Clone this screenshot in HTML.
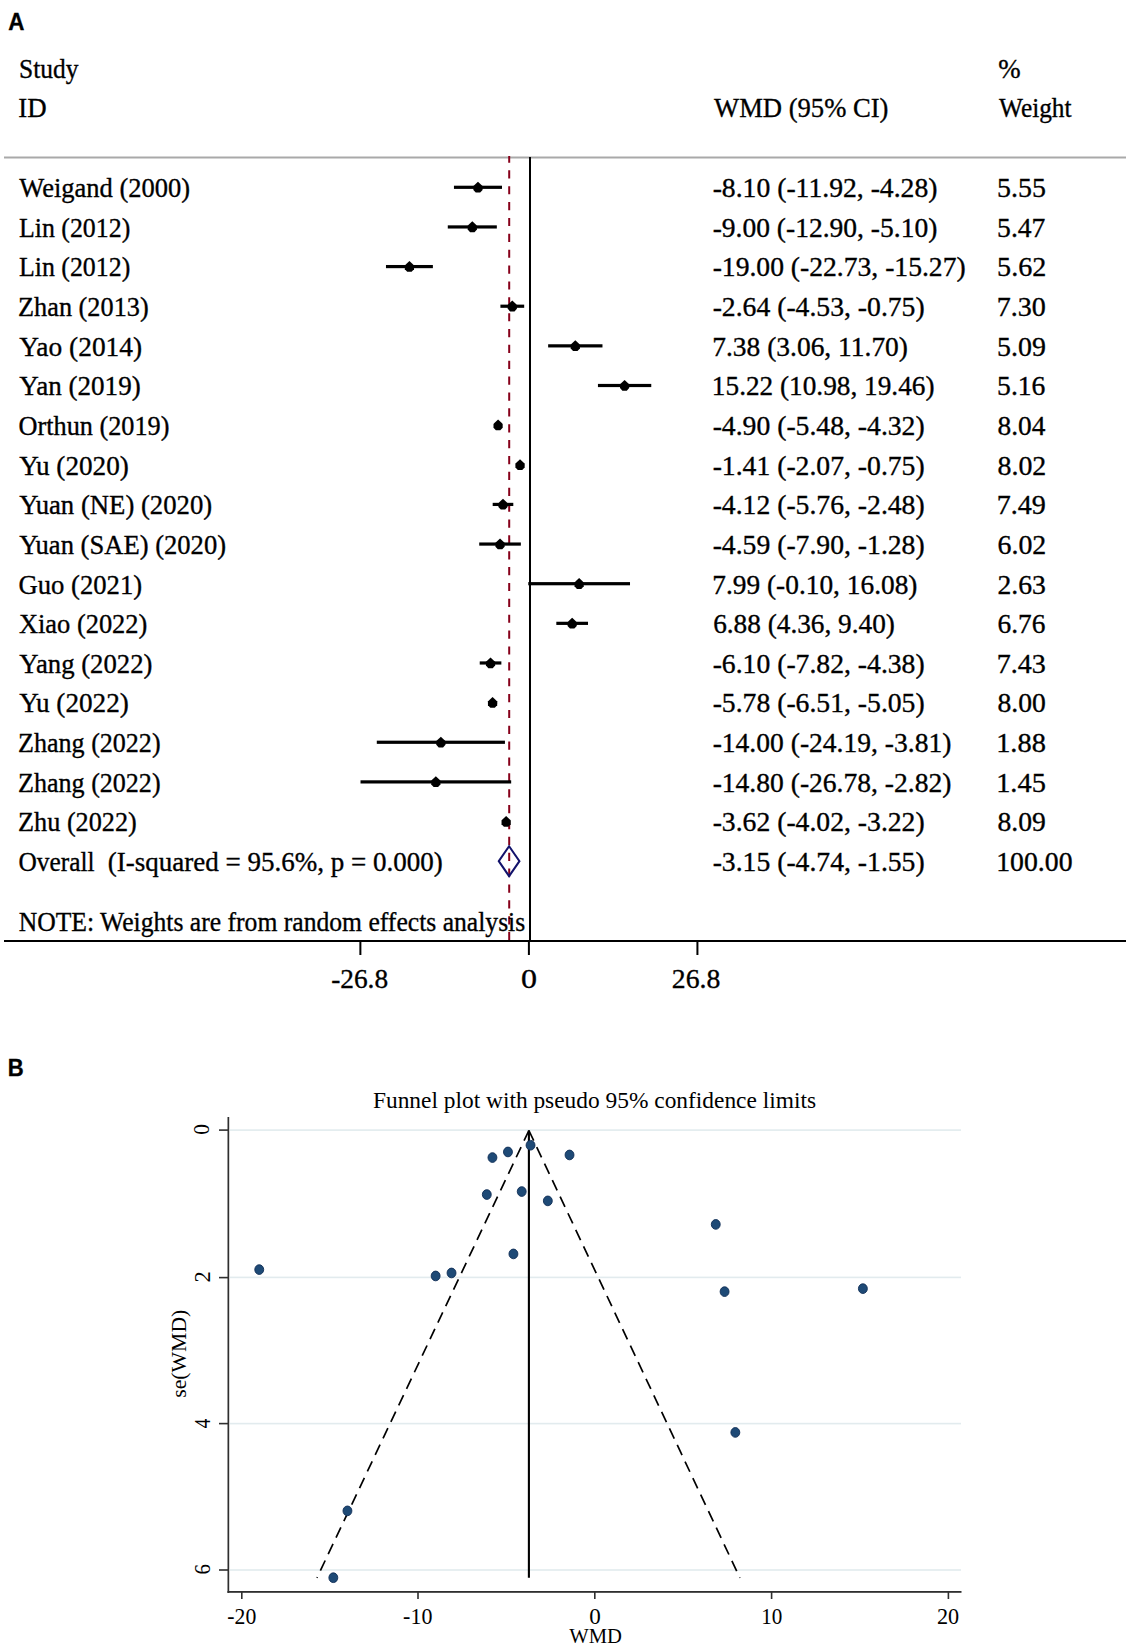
<!DOCTYPE html>
<html><head><meta charset="utf-8"><style>
html,body{margin:0;padding:0;background:#fff;}
svg{display:block;}
</style></head><body>
<svg width="1130" height="1647" viewBox="0 0 1130 1647">
<rect width="1130" height="1647" fill="#fff"/>
<rect x="4" y="156.5" width="1122" height="2" fill="#a9a9a9"/>
<line x1="509.2" y1="156" x2="509.2" y2="940" stroke="#86001a" stroke-width="2" stroke-dasharray="8.2 7.67" stroke-dashoffset="1.57"/>
<rect x="529" y="157" width="2" height="785" fill="#000"/>
<rect x="4" y="940" width="1122" height="2" fill="#000"/>
<rect x="359.38" y="941" width="2" height="14" fill="#000"/>
<rect x="527.90" y="941" width="2" height="14" fill="#000"/>
<rect x="696.42" y="941" width="2" height="14" fill="#000"/>
<rect x="453.95" y="185.70" width="48.04" height="3.2" fill="#000"/>
<polygon points="477.97,181.70 481.17,184.70 482.57,186.10 482.57,189.90 480.17,192.50 475.77,192.50 473.37,189.90 473.37,186.10 474.77,184.70" fill="#000"/>
<rect x="447.78" y="225.34" width="49.05" height="3.2" fill="#000"/>
<polygon points="472.31,221.34 475.51,224.34 476.91,225.74 476.91,229.54 474.51,232.14 470.11,232.14 467.71,229.54 467.71,225.74 469.11,224.34" fill="#000"/>
<rect x="385.97" y="264.98" width="46.91" height="3.2" fill="#000"/>
<polygon points="409.43,260.98 412.63,263.98 414.03,265.38 414.03,269.18 411.63,271.78 407.23,271.78 404.83,269.18 404.83,265.38 406.23,263.98" fill="#000"/>
<rect x="500.42" y="304.62" width="23.77" height="3.2" fill="#000"/>
<polygon points="512.30,300.62 515.50,303.62 516.90,305.02 516.90,308.82 514.50,311.42 510.10,311.42 507.70,308.82 507.70,305.02 509.10,303.62" fill="#000"/>
<rect x="548.14" y="344.26" width="54.33" height="3.2" fill="#000"/>
<polygon points="575.31,340.26 578.51,343.26 579.91,344.66 579.91,348.46 577.51,351.06 573.11,351.06 570.71,348.46 570.71,344.66 572.11,343.26" fill="#000"/>
<rect x="597.94" y="383.90" width="53.32" height="3.2" fill="#000"/>
<polygon points="624.60,379.90 627.80,382.90 629.20,384.30 629.20,388.10 626.80,390.70 622.40,390.70 620.00,388.10 620.00,384.30 621.40,382.90" fill="#000"/>
<rect x="494.44" y="423.54" width="7.29" height="3.2" fill="#000"/>
<polygon points="498.09,419.54 501.29,422.54 502.69,423.94 502.69,427.74 500.29,430.34 495.89,430.34 493.49,427.74 493.49,423.94 494.89,422.54" fill="#000"/>
<rect x="515.88" y="463.18" width="8.30" height="3.2" fill="#000"/>
<polygon points="520.03,459.18 523.23,462.18 524.63,463.58 524.63,467.38 522.23,469.98 517.83,469.98 515.43,467.38 515.43,463.58 516.83,462.18" fill="#000"/>
<rect x="492.68" y="502.82" width="20.62" height="3.2" fill="#000"/>
<polygon points="502.99,498.82 506.19,501.82 507.59,503.22 507.59,507.02 505.19,509.62 500.79,509.62 498.39,507.02 498.39,503.22 499.79,501.82" fill="#000"/>
<rect x="479.22" y="542.46" width="41.63" height="3.2" fill="#000"/>
<polygon points="500.04,538.46 503.24,541.46 504.64,542.86 504.64,546.66 502.24,549.26 497.84,549.26 495.44,546.66 495.44,542.86 496.84,541.46" fill="#000"/>
<rect x="528.27" y="582.10" width="101.74" height="3.2" fill="#000"/>
<polygon points="579.14,578.10 582.34,581.10 583.74,582.50 583.74,586.30 581.34,588.90 576.94,588.90 574.54,586.30 574.54,582.50 575.94,581.10" fill="#000"/>
<rect x="556.32" y="621.74" width="31.69" height="3.2" fill="#000"/>
<polygon points="572.16,617.74 575.36,620.74 576.76,622.14 576.76,625.94 574.36,628.54 569.96,628.54 567.56,625.94 567.56,622.14 568.96,620.74" fill="#000"/>
<rect x="479.73" y="661.38" width="21.63" height="3.2" fill="#000"/>
<polygon points="490.54,657.38 493.74,660.38 495.14,661.78 495.14,665.58 492.74,668.18 488.34,668.18 485.94,665.58 485.94,661.78 487.34,660.38" fill="#000"/>
<rect x="487.97" y="701.02" width="9.18" height="3.2" fill="#000"/>
<polygon points="492.56,697.02 495.76,700.02 497.16,701.42 497.16,705.22 494.76,707.82 490.36,707.82 487.96,705.22 487.96,701.42 489.36,700.02" fill="#000"/>
<rect x="376.79" y="740.66" width="128.15" height="3.2" fill="#000"/>
<polygon points="440.87,736.66 444.07,739.66 445.47,741.06 445.47,744.86 443.07,747.46 438.67,747.46 436.27,744.86 436.27,741.06 437.67,739.66" fill="#000"/>
<rect x="360.51" y="780.30" width="150.66" height="3.2" fill="#000"/>
<polygon points="435.84,776.30 439.04,779.30 440.44,780.70 440.44,784.50 438.04,787.10 433.64,787.10 431.24,784.50 431.24,780.70 432.64,779.30" fill="#000"/>
<rect x="503.62" y="819.94" width="5.03" height="3.2" fill="#000"/>
<polygon points="506.14,815.94 509.34,818.94 510.74,820.34 510.74,824.14 508.34,826.74 503.94,826.74 501.54,824.14 501.54,820.34 502.94,818.94" fill="#000"/>
<polygon points="498.79,861.18 509.09,846.18 519.45,861.18 509.09,876.18" fill="none" stroke="#12126b" stroke-width="2"/>
<rect x="230" y="1129.30" width="731" height="1.6" fill="#e2ebee"/>
<rect x="230" y="1276.60" width="731" height="1.6" fill="#e2ebee"/>
<rect x="230" y="1422.80" width="731" height="1.6" fill="#e2ebee"/>
<rect x="230" y="1569.20" width="731" height="1.6" fill="#e2ebee"/>
<rect x="227.5" y="1117" width="1.7" height="476" fill="#2f2f2f"/>
<rect x="227.5" y="1591" width="734" height="1.8" fill="#2f2f2f"/>
<rect x="219" y="1129.30" width="9" height="1.6" fill="#2f2f2f"/>
<rect x="219" y="1276.80" width="9" height="1.6" fill="#2f2f2f"/>
<rect x="219" y="1422.80" width="9" height="1.6" fill="#2f2f2f"/>
<rect x="219" y="1569.20" width="9" height="1.6" fill="#2f2f2f"/>
<rect x="241.00" y="1592" width="1.6" height="7" fill="#2f2f2f"/>
<rect x="417.20" y="1592" width="1.6" height="7" fill="#2f2f2f"/>
<rect x="594.00" y="1592" width="1.6" height="7" fill="#2f2f2f"/>
<rect x="770.80" y="1592" width="1.6" height="7" fill="#2f2f2f"/>
<rect x="947.60" y="1592" width="1.6" height="7" fill="#2f2f2f"/>
<line x1="528.9" y1="1130.5" x2="528.9" y2="1577.8" stroke="#000" stroke-width="2.1"/>
<line x1="528.9" y1="1130.5" x2="317.0" y2="1577.8" stroke="#000" stroke-width="1.7" stroke-dasharray="11.3 7.0"/>
<line x1="528.9" y1="1130.5" x2="739.9" y2="1577.8" stroke="#000" stroke-width="1.7" stroke-dasharray="11.3 7.0"/>
<ellipse cx="451.52" cy="1272.97" rx="4.45" ry="4.85" fill="#1e4a76" stroke="#0e2d55" stroke-width="0.9"/>
<ellipse cx="435.64" cy="1275.95" rx="4.45" ry="4.85" fill="#1e4a76" stroke="#0e2d55" stroke-width="0.9"/>
<ellipse cx="259.24" cy="1269.60" rx="4.45" ry="4.85" fill="#1e4a76" stroke="#0e2d55" stroke-width="0.9"/>
<ellipse cx="547.83" cy="1200.89" rx="4.45" ry="4.85" fill="#1e4a76" stroke="#0e2d55" stroke-width="0.9"/>
<ellipse cx="724.58" cy="1291.64" rx="4.45" ry="4.85" fill="#1e4a76" stroke="#0e2d55" stroke-width="0.9"/>
<ellipse cx="862.88" cy="1288.65" rx="4.45" ry="4.85" fill="#1e4a76" stroke="#0e2d55" stroke-width="0.9"/>
<ellipse cx="507.96" cy="1151.96" rx="4.45" ry="4.85" fill="#1e4a76" stroke="#0e2d55" stroke-width="0.9"/>
<ellipse cx="569.53" cy="1154.95" rx="4.45" ry="4.85" fill="#1e4a76" stroke="#0e2d55" stroke-width="0.9"/>
<ellipse cx="521.72" cy="1191.55" rx="4.45" ry="4.85" fill="#1e4a76" stroke="#0e2d55" stroke-width="0.9"/>
<ellipse cx="513.43" cy="1253.92" rx="4.45" ry="4.85" fill="#1e4a76" stroke="#0e2d55" stroke-width="0.9"/>
<ellipse cx="735.34" cy="1432.44" rx="4.45" ry="4.85" fill="#1e4a76" stroke="#0e2d55" stroke-width="0.9"/>
<ellipse cx="715.76" cy="1224.41" rx="4.45" ry="4.85" fill="#1e4a76" stroke="#0e2d55" stroke-width="0.9"/>
<ellipse cx="486.80" cy="1194.54" rx="4.45" ry="4.85" fill="#1e4a76" stroke="#0e2d55" stroke-width="0.9"/>
<ellipse cx="492.44" cy="1157.56" rx="4.45" ry="4.85" fill="#1e4a76" stroke="#0e2d55" stroke-width="0.9"/>
<ellipse cx="347.44" cy="1510.87" rx="4.45" ry="4.85" fill="#1e4a76" stroke="#0e2d55" stroke-width="0.9"/>
<ellipse cx="333.33" cy="1577.72" rx="4.45" ry="4.85" fill="#1e4a76" stroke="#0e2d55" stroke-width="0.9"/>
<ellipse cx="530.54" cy="1145.24" rx="4.45" ry="4.85" fill="#1e4a76" stroke="#0e2d55" stroke-width="0.9"/>
<text transform="translate(8.35,29.60) scale(0.9143,1)" font-family='"Liberation Sans"' font-weight="bold" font-size="24.5" fill="#000" stroke="#000" stroke-width="0.35">A</text>
<text transform="translate(7.82,1075.70) scale(0.9012,1)" font-family='"Liberation Sans"' font-weight="bold" font-size="24.5" fill="#000" stroke="#000" stroke-width="0.35">B</text>
<text transform="translate(19.11,77.50) scale(0.9104,1)" font-family='"Liberation Serif"' font-weight="normal" font-size="28" fill="#000" stroke="#000" stroke-width="0.35">Study</text>
<text transform="translate(18.26,117.00) scale(0.9603,1)" font-family='"Liberation Serif"' font-weight="normal" font-size="28" fill="#000" stroke="#000" stroke-width="0.35">ID</text>
<text transform="translate(714.00,117.00) scale(0.9512,1)" font-family='"Liberation Serif"' font-weight="normal" font-size="28" fill="#000" stroke="#000" stroke-width="0.35">WMD (95% CI)</text>
<text transform="translate(998.16,77.60) scale(0.9600,1)" font-family='"Liberation Serif"' font-weight="normal" font-size="28" fill="#000" stroke="#000" stroke-width="0.35">%</text>
<text transform="translate(999.00,117.30) scale(0.9057,1)" font-family='"Liberation Serif"' font-weight="normal" font-size="28" fill="#000" stroke="#000" stroke-width="0.35">Weight</text>
<text transform="translate(19.30,197.10) scale(0.9467,1)" font-family='"Liberation Serif"' font-weight="normal" font-size="28" fill="#000" stroke="#000" stroke-width="0.35">Weigand (2000)</text>
<text transform="translate(712.64,197.10) scale(0.9881,1)" font-family='"Liberation Serif"' font-weight="normal" font-size="28" fill="#000" stroke="#000" stroke-width="0.35">-8.10 (-11.92, -4.28)</text>
<text transform="translate(997.09,197.10) scale(0.9955,1)" font-family='"Liberation Serif"' font-weight="normal" font-size="28" fill="#000" stroke="#000" stroke-width="0.35">5.55</text>
<text transform="translate(18.90,236.74) scale(0.9246,1)" font-family='"Liberation Serif"' font-weight="normal" font-size="28" fill="#000" stroke="#000" stroke-width="0.35">Lin (2012)</text>
<text transform="translate(712.64,236.74) scale(0.9835,1)" font-family='"Liberation Serif"' font-weight="normal" font-size="28" fill="#000" stroke="#000" stroke-width="0.35">-9.00 (-12.90, -5.10)</text>
<text transform="translate(997.11,236.74) scale(0.9862,1)" font-family='"Liberation Serif"' font-weight="normal" font-size="28" fill="#000" stroke="#000" stroke-width="0.35">5.47</text>
<text transform="translate(18.90,276.38) scale(0.9246,1)" font-family='"Liberation Serif"' font-weight="normal" font-size="28" fill="#000" stroke="#000" stroke-width="0.35">Lin (2012)</text>
<text transform="translate(712.64,276.38) scale(0.9865,1)" font-family='"Liberation Serif"' font-weight="normal" font-size="28" fill="#000" stroke="#000" stroke-width="0.35">-19.00 (-22.73, -15.27)</text>
<text transform="translate(997.08,276.38) scale(1.0049,1)" font-family='"Liberation Serif"' font-weight="normal" font-size="28" fill="#000" stroke="#000" stroke-width="0.35">5.62</text>
<text transform="translate(18.07,316.02) scale(0.9389,1)" font-family='"Liberation Serif"' font-weight="normal" font-size="28" fill="#000" stroke="#000" stroke-width="0.35">Zhan (2013)</text>
<text transform="translate(712.64,316.02) scale(0.9881,1)" font-family='"Liberation Serif"' font-weight="normal" font-size="28" fill="#000" stroke="#000" stroke-width="0.35">-2.64 (-4.53, -0.75)</text>
<text transform="translate(996.64,316.02) scale(1.0049,1)" font-family='"Liberation Serif"' font-weight="normal" font-size="28" fill="#000" stroke="#000" stroke-width="0.35">7.30</text>
<text transform="translate(19.30,355.66) scale(0.9793,1)" font-family='"Liberation Serif"' font-weight="normal" font-size="28" fill="#000" stroke="#000" stroke-width="0.35">Yao (2014)</text>
<text transform="translate(712.28,355.66) scale(0.9810,1)" font-family='"Liberation Serif"' font-weight="normal" font-size="28" fill="#000" stroke="#000" stroke-width="0.35">7.38 (3.06, 11.70)</text>
<text transform="translate(997.09,355.66) scale(0.9955,1)" font-family='"Liberation Serif"' font-weight="normal" font-size="28" fill="#000" stroke="#000" stroke-width="0.35">5.09</text>
<text transform="translate(19.30,395.30) scale(0.9680,1)" font-family='"Liberation Serif"' font-weight="normal" font-size="28" fill="#000" stroke="#000" stroke-width="0.35">Yan (2019)</text>
<text transform="translate(711.87,395.30) scale(0.9741,1)" font-family='"Liberation Serif"' font-weight="normal" font-size="28" fill="#000" stroke="#000" stroke-width="0.35">15.22 (10.98, 19.46)</text>
<text transform="translate(997.11,395.30) scale(0.9862,1)" font-family='"Liberation Serif"' font-weight="normal" font-size="28" fill="#000" stroke="#000" stroke-width="0.35">5.16</text>
<text transform="translate(18.48,434.94) scale(0.9385,1)" font-family='"Liberation Serif"' font-weight="normal" font-size="28" fill="#000" stroke="#000" stroke-width="0.35">Orthun (2019)</text>
<text transform="translate(712.64,434.94) scale(0.9881,1)" font-family='"Liberation Serif"' font-weight="normal" font-size="28" fill="#000" stroke="#000" stroke-width="0.35">-4.90 (-5.48, -4.32)</text>
<text transform="translate(997.54,434.94) scale(0.9772,1)" font-family='"Liberation Serif"' font-weight="normal" font-size="28" fill="#000" stroke="#000" stroke-width="0.35">8.04</text>
<text transform="translate(19.30,474.58) scale(0.9718,1)" font-family='"Liberation Serif"' font-weight="normal" font-size="28" fill="#000" stroke="#000" stroke-width="0.35">Yu (2020)</text>
<text transform="translate(712.64,474.58) scale(0.9881,1)" font-family='"Liberation Serif"' font-weight="normal" font-size="28" fill="#000" stroke="#000" stroke-width="0.35">-1.41 (-2.07, -0.75)</text>
<text transform="translate(997.53,474.58) scale(0.9955,1)" font-family='"Liberation Serif"' font-weight="normal" font-size="28" fill="#000" stroke="#000" stroke-width="0.35">8.02</text>
<text transform="translate(19.30,514.22) scale(0.9545,1)" font-family='"Liberation Serif"' font-weight="normal" font-size="28" fill="#000" stroke="#000" stroke-width="0.35">Yuan (NE) (2020)</text>
<text transform="translate(712.64,514.22) scale(0.9881,1)" font-family='"Liberation Serif"' font-weight="normal" font-size="28" fill="#000" stroke="#000" stroke-width="0.35">-4.12 (-5.76, -2.48)</text>
<text transform="translate(996.64,514.22) scale(1.0049,1)" font-family='"Liberation Serif"' font-weight="normal" font-size="28" fill="#000" stroke="#000" stroke-width="0.35">7.49</text>
<text transform="translate(19.30,553.86) scale(0.9500,1)" font-family='"Liberation Serif"' font-weight="normal" font-size="28" fill="#000" stroke="#000" stroke-width="0.35">Yuan (SAE) (2020)</text>
<text transform="translate(712.64,553.86) scale(0.9881,1)" font-family='"Liberation Serif"' font-weight="normal" font-size="28" fill="#000" stroke="#000" stroke-width="0.35">-4.59 (-7.90, -1.28)</text>
<text transform="translate(997.53,553.86) scale(0.9955,1)" font-family='"Liberation Serif"' font-weight="normal" font-size="28" fill="#000" stroke="#000" stroke-width="0.35">6.02</text>
<text transform="translate(18.47,593.50) scale(0.9525,1)" font-family='"Liberation Serif"' font-weight="normal" font-size="28" fill="#000" stroke="#000" stroke-width="0.35">Guo (2021)</text>
<text transform="translate(712.29,593.50) scale(0.9777,1)" font-family='"Liberation Serif"' font-weight="normal" font-size="28" fill="#000" stroke="#000" stroke-width="0.35">7.99 (-0.10, 16.08)</text>
<text transform="translate(997.54,593.50) scale(0.9862,1)" font-family='"Liberation Serif"' font-weight="normal" font-size="28" fill="#000" stroke="#000" stroke-width="0.35">2.63</text>
<text transform="translate(18.89,633.14) scale(0.9448,1)" font-family='"Liberation Serif"' font-weight="normal" font-size="28" fill="#000" stroke="#000" stroke-width="0.35">Xiao (2022)</text>
<text transform="translate(713.15,633.14) scale(0.9742,1)" font-family='"Liberation Serif"' font-weight="normal" font-size="28" fill="#000" stroke="#000" stroke-width="0.35">6.88 (4.36, 9.40)</text>
<text transform="translate(997.54,633.14) scale(0.9772,1)" font-family='"Liberation Serif"' font-weight="normal" font-size="28" fill="#000" stroke="#000" stroke-width="0.35">6.76</text>
<text transform="translate(19.30,672.78) scale(0.9546,1)" font-family='"Liberation Serif"' font-weight="normal" font-size="28" fill="#000" stroke="#000" stroke-width="0.35">Yang (2022)</text>
<text transform="translate(712.64,672.78) scale(0.9881,1)" font-family='"Liberation Serif"' font-weight="normal" font-size="28" fill="#000" stroke="#000" stroke-width="0.35">-6.10 (-7.82, -4.38)</text>
<text transform="translate(996.64,672.78) scale(1.0049,1)" font-family='"Liberation Serif"' font-weight="normal" font-size="28" fill="#000" stroke="#000" stroke-width="0.35">7.43</text>
<text transform="translate(19.30,712.42) scale(0.9718,1)" font-family='"Liberation Serif"' font-weight="normal" font-size="28" fill="#000" stroke="#000" stroke-width="0.35">Yu (2022)</text>
<text transform="translate(712.64,712.42) scale(0.9881,1)" font-family='"Liberation Serif"' font-weight="normal" font-size="28" fill="#000" stroke="#000" stroke-width="0.35">-5.78 (-6.51, -5.05)</text>
<text transform="translate(997.54,712.42) scale(0.9862,1)" font-family='"Liberation Serif"' font-weight="normal" font-size="28" fill="#000" stroke="#000" stroke-width="0.35">8.00</text>
<text transform="translate(18.08,752.06) scale(0.9307,1)" font-family='"Liberation Serif"' font-weight="normal" font-size="28" fill="#000" stroke="#000" stroke-width="0.35">Zhang (2022)</text>
<text transform="translate(712.64,752.06) scale(0.9849,1)" font-family='"Liberation Serif"' font-weight="normal" font-size="28" fill="#000" stroke="#000" stroke-width="0.35">-14.00 (-24.19, -3.81)</text>
<text transform="translate(996.18,752.06) scale(1.0144,1)" font-family='"Liberation Serif"' font-weight="normal" font-size="28" fill="#000" stroke="#000" stroke-width="0.35">1.88</text>
<text transform="translate(18.08,791.70) scale(0.9307,1)" font-family='"Liberation Serif"' font-weight="normal" font-size="28" fill="#000" stroke="#000" stroke-width="0.35">Zhang (2022)</text>
<text transform="translate(712.64,791.70) scale(0.9849,1)" font-family='"Liberation Serif"' font-weight="normal" font-size="28" fill="#000" stroke="#000" stroke-width="0.35">-14.80 (-26.78, -2.82)</text>
<text transform="translate(996.18,791.70) scale(1.0144,1)" font-family='"Liberation Serif"' font-weight="normal" font-size="28" fill="#000" stroke="#000" stroke-width="0.35">1.45</text>
<text transform="translate(18.07,831.34) scale(0.9371,1)" font-family='"Liberation Serif"' font-weight="normal" font-size="28" fill="#000" stroke="#000" stroke-width="0.35">Zhu (2022)</text>
<text transform="translate(712.64,831.34) scale(0.9881,1)" font-family='"Liberation Serif"' font-weight="normal" font-size="28" fill="#000" stroke="#000" stroke-width="0.35">-3.62 (-4.02, -3.22)</text>
<text transform="translate(997.54,831.34) scale(0.9862,1)" font-family='"Liberation Serif"' font-weight="normal" font-size="28" fill="#000" stroke="#000" stroke-width="0.35">8.09</text>
<text transform="translate(18.51,870.98) scale(0.9052,1)" font-family='"Liberation Serif"' font-weight="normal" font-size="28" fill="#000" stroke="#000" stroke-width="0.35">Overall</text>
<text transform="translate(107.76,870.98) scale(0.9653,1)" font-family='"Liberation Serif"' font-weight="normal" font-size="28" fill="#000" stroke="#000" stroke-width="0.35">(I-squared = 95.6%, p = 0.000)</text>
<text transform="translate(712.64,870.98) scale(0.9881,1)" font-family='"Liberation Serif"' font-weight="normal" font-size="28" fill="#000" stroke="#000" stroke-width="0.35">-3.15 (-4.74, -1.55)</text>
<text transform="translate(996.23,870.98) scale(0.9914,1)" font-family='"Liberation Serif"' font-weight="normal" font-size="28" fill="#000" stroke="#000" stroke-width="0.35">100.00</text>
<text transform="translate(18.70,930.90) scale(0.9159,1)" font-family='"Liberation Serif"' font-weight="normal" font-size="28" fill="#000" stroke="#000" stroke-width="0.35">NOTE: Weights are from random effects analysis</text>
<text transform="translate(331.14,987.70) scale(0.9775,1)" font-family='"Liberation Serif"' font-weight="normal" font-size="28" fill="#000" stroke="#000" stroke-width="0.35">-26.8</text>
<text transform="translate(521.00,987.70) scale(1.1429,1)" font-family='"Liberation Serif"' font-weight="normal" font-size="28" fill="#000" stroke="#000" stroke-width="0.35">0</text>
<text transform="translate(671.83,987.70) scale(0.9905,1)" font-family='"Liberation Serif"' font-weight="normal" font-size="28" fill="#000" stroke="#000" stroke-width="0.35">26.8</text>
<text transform="translate(372.93,1107.80) scale(0.9960,1)" font-family='"Liberation Serif"' font-weight="normal" font-size="23.5" fill="#000" stroke="#000" stroke-width="0">Funnel plot with pseudo 95% confidence limits</text>
<text transform="translate(227.32,1623.90) scale(0.9655,1)" font-family='"Liberation Serif"' font-weight="normal" font-size="22.5" fill="#000" stroke="#000" stroke-width="0">-20</text>
<text transform="translate(403.11,1623.90) scale(0.9760,1)" font-family='"Liberation Serif"' font-weight="normal" font-size="22.5" fill="#000" stroke="#000" stroke-width="0">-10</text>
<text transform="translate(589.18,1623.60) scale(1.0260,1)" font-family='"Liberation Serif"' font-weight="normal" font-size="22.5" fill="#000" stroke="#000" stroke-width="0">0</text>
<text transform="translate(761.15,1623.90) scale(0.9382,1)" font-family='"Liberation Serif"' font-weight="normal" font-size="22.5" fill="#000" stroke="#000" stroke-width="0">10</text>
<text transform="translate(936.91,1623.60) scale(0.9861,1)" font-family='"Liberation Serif"' font-weight="normal" font-size="22.5" fill="#000" stroke="#000" stroke-width="0">20</text>
<text transform="translate(569.20,1643.10) scale(0.9596,1)" font-family='"Liberation Serif"' font-weight="normal" font-size="21.5" fill="#000" stroke="#000" stroke-width="0">WMD</text>
<text transform="translate(185.50,1397.78) rotate(-90) scale(0.9885,1)" font-family='"Liberation Serif"' font-weight="normal" font-size="22" fill="#000" stroke="#000" stroke-width="0">se(WMD)</text>
<text transform="translate(209.40,1134.77) rotate(-90) scale(0.9549,1)" font-family='"Liberation Serif"' font-weight="normal" font-size="22.5" fill="#000" stroke="#000" stroke-width="0">0</text>
<text transform="translate(209.60,1282.50) rotate(-90) scale(1.0008,1)" font-family='"Liberation Serif"' font-weight="normal" font-size="22.5" fill="#000" stroke="#000" stroke-width="0">2</text>
<text transform="translate(209.50,1428.20) rotate(-90) scale(0.8533,1)" font-family='"Liberation Serif"' font-weight="normal" font-size="22.5" fill="#000" stroke="#000" stroke-width="0">4</text>
<text transform="translate(209.50,1574.55) rotate(-90) scale(0.9220,1)" font-family='"Liberation Serif"' font-weight="normal" font-size="22.5" fill="#000" stroke="#000" stroke-width="0">6</text>
</svg>
</body></html>
